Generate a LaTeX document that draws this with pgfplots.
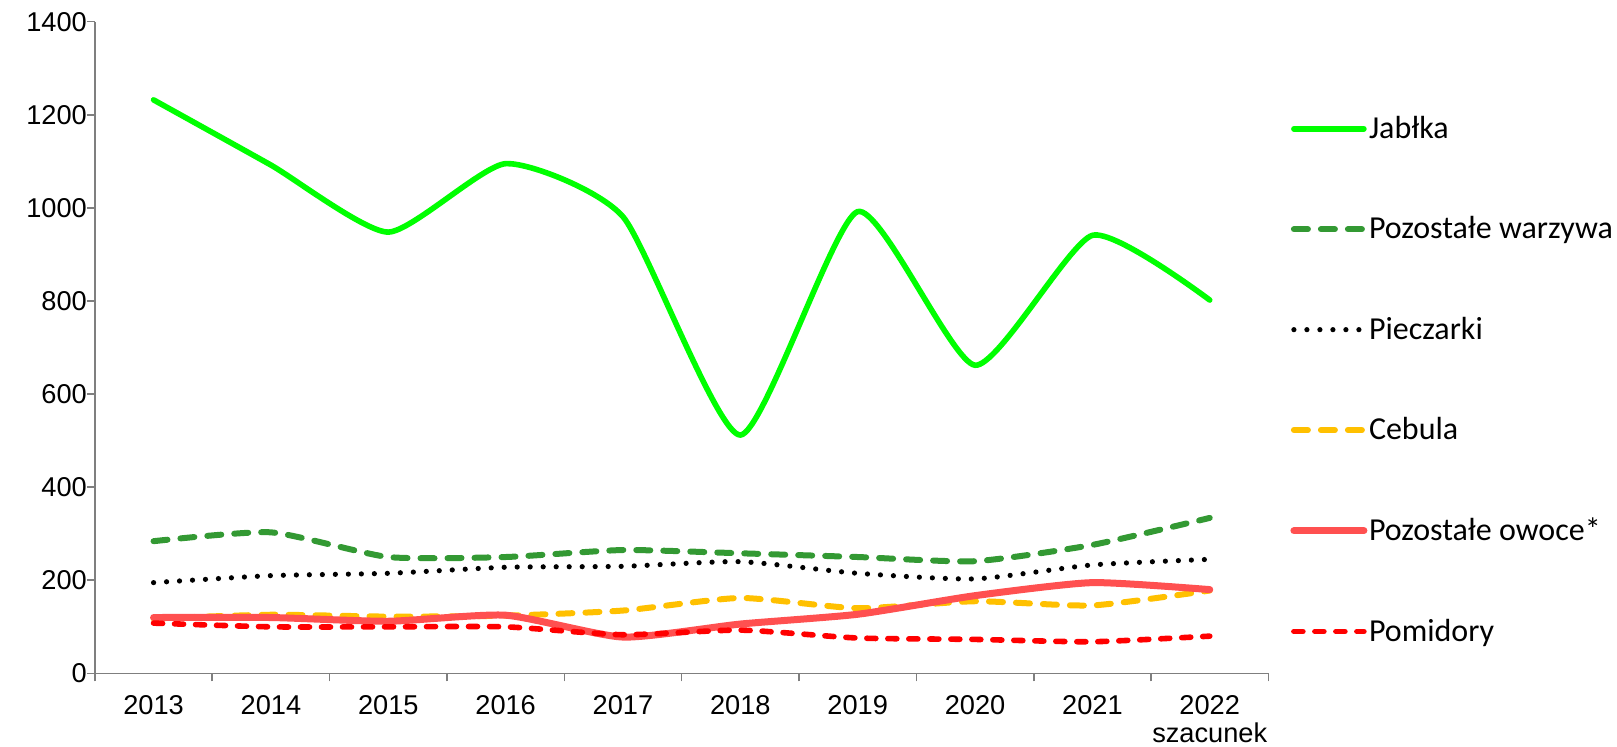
\documentclass[border=0pt]{standalone}
\usepackage{fontspec}
\setmainfont{Liberation Sans}
\newfontfamily\calibri{Carlito}
\usepackage{pgfplots}
\pgfplotsset{compat=1.18}
\definecolor{cJab}{HTML}{00FF00}
\definecolor{cWar}{HTML}{339933}
\definecolor{cCeb}{HTML}{FFC000}
\definecolor{cOwo}{HTML}{FF5050}
\definecolor{cPom}{HTML}{FF0000}
\definecolor{axgray}{HTML}{7F7F7F}
\begin{document}
\begin{tikzpicture}
\begin{axis}[
  name=ax,
  scale only axis,
  width=586.75pt, height=325.85pt,
  xmin=0, xmax=10, ymin=0, ymax=1400,
  axis lines*=left,
  axis line style={axgray, line width=0.8pt},
  tick align=outside,
  tick style={axgray, line width=0.8pt},
  major tick length=4pt,
  xtick={0,1,...,10},
  xticklabels={2013,2014,2015,2016,2017,2018,2019,2020,2021,{2022\\szacunek},{}},
  x tick label style={xshift=29.34pt, yshift=-3.5pt, align=center, font=\fontsize{13.6}{13.8}\selectfont, text=black},
  ytick={0,200,...,1400},
  y tick label style={xshift=3.5pt, font=\fontsize{13.6}{15}\selectfont, text=black},
  /pgf/number format/assume math mode=true,
  /pgf/number format/1000 sep={},
  legend style={draw=none, fill=none, at={(axis description cs:1.0184,0.450)}, anchor=west,
    inner sep=0pt, row sep=36pt, font=\calibri\fontsize{16}{18}\selectfont,
    nodes={inner sep=0.8pt}},
  legend cell align=left,
  legend image code/.code={\draw[#1] (0pt,0pt) -- (35pt,0pt);},
  every axis plot/.append style={smooth, tension=0.35, line cap=round, no markers},
]
\addplot[cJab, line width=2.8pt] coordinates {(0.5,1232) (1.5,1092) (2.5,948) (3.5,1095) (4.5,981) (5.5,512) (6.5,992) (7.5,662) (8.5,941) (9.5,802)};
\addlegendentry{Jabłka}
\addplot[cWar, line width=3pt, dash pattern=on 7pt off 6.5pt] coordinates {(0.5,284) (1.5,303) (2.5,250) (3.5,250) (4.5,265) (5.5,258) (6.5,250) (7.5,241) (8.5,276) (9.5,334)};
\addlegendentry{Pozostałe warzywa}
\addplot[black, line width=2.6pt, dash pattern=on 0pt off 6.5pt] coordinates {(0.5,195) (1.5,210) (2.5,215) (3.5,228) (4.5,230) (5.5,240) (6.5,215) (7.5,203) (8.5,233) (9.5,245)};
\addlegendentry{Pieczarki}
\addplot[cCeb, line width=3pt, dash pattern=on 7pt off 6.5pt] coordinates {(0.5,118) (1.5,126) (2.5,122) (3.5,124) (4.5,135) (5.5,162) (6.5,140) (7.5,155) (8.5,146) (9.5,178)};
\addlegendentry{Cebula}
\addplot[cOwo, line width=3.5pt] coordinates {(0.5,120) (1.5,120) (2.5,112) (3.5,125) (4.5,78) (5.5,106) (6.5,127) (7.5,167) (8.5,195) (9.5,180)};
\addlegendentry{Pozostałe owoce*}
\addplot[cPom, line width=2.8pt, dash pattern=on 4.5pt off 6pt] coordinates {(0.5,108) (1.5,100) (2.5,100) (3.5,100) (4.5,83) (5.5,93) (6.5,76) (7.5,73) (8.5,68) (9.5,80)};
\addlegendentry{Pomidory}
\end{axis}
\pgfresetboundingbox
\path ([xshift=-47.45pt,yshift=-36.8pt]ax.south west) rectangle ([xshift=174.3pt,yshift=10.85pt]ax.north east);
\end{tikzpicture}
\end{document}
